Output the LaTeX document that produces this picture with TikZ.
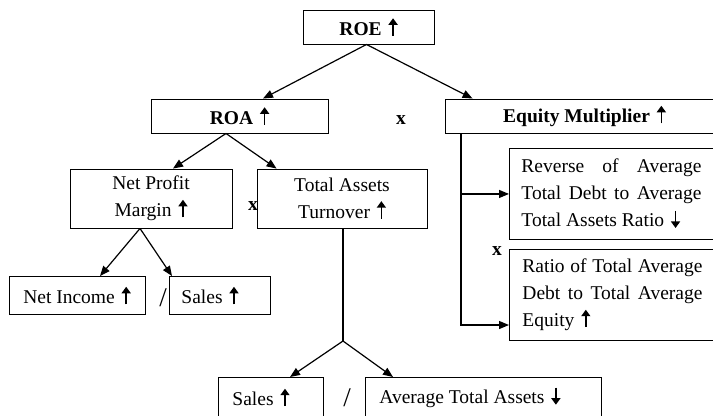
\documentclass[tikz,border=0pt]{standalone}
\usepackage{fontspec}
\setmainfont{Liberation Serif}
\usetikzlibrary{arrows.meta,calc}
\newcommand\fsz{\fontsize{19.5bp}{27bp}\selectfont}
\newcommand\uparr{\hspace{2bp}\tikz[x=1bp,y=1bp,baseline=0pt]\draw[line width=1.4bp,-{Triangle[length=6.5bp,width=9bp]}] (0,-0.5) -- (0,17);}
\newcommand\dnarr{\hspace{2bp}\tikz[x=1bp,y=1bp,baseline=0pt]\draw[line width=1.4bp,-{Triangle[length=6.5bp,width=9bp]}] (0,16) -- (0,-1);}
\tikzset{
  box/.style={draw, line width=0.9bp, inner sep=0pt, align=center, font=\fsz},
  arr/.style={line width=1.2bp, -{Triangle[length=10bp,width=8bp]}},
  thickln/.style={line width=2bp},
  op/.style={inner sep=0pt, font=\fsz\bfseries},
  slash/.style={inner sep=0pt, font=\fontsize{27bp}{30bp}\selectfont},
}
\begin{document}
\begin{tikzpicture}[x=1bp,y=-1bp]
\useasboundingbox (0,0) rectangle (713,415);
\clip (0,0) rectangle (713,415);
% top
\node[box, minimum width=131bp, minimum height=34bp] (roe) at (368.5,27) {\textbf{ROE \uparr}};
\node[box, minimum width=177bp, minimum height=34bp] (roa) at (239.5,116) {\textbf{ROA \uparr}};
\node[box, minimum width=279bp, minimum height=34bp] (em) at (584.5,116) {\textbf{Equity Multiplier \uparr}};
% second row
\node[box, minimum width=162bp, minimum height=59bp] (npm) at (151,198.5) {Net Profit\\Margin \uparr};
\node[box, minimum width=170bp, minimum height=59bp] (tat) at (342,198.5) {Total Assets\\Turnover \uparr};
% third row
\node[box, minimum width=136bp, minimum height=38bp] (ni) at (77,295.5) {Net Income \uparr};
\node[box, minimum height=38bp, anchor=west] (s1) at (169,295.5) {\makebox[101bp][l]{\hspace{12bp}Sales \uparr}};
% bottom row
\node[box, minimum height=40bp, anchor=north west] (s2) at (218,377) {\makebox[105bp][l]{\hspace{14bp}Sales \uparr}};
\node[box, minimum height=40bp, anchor=north west] (ata) at (365,377) {\makebox[236bp][l]{\hspace{14bp}Average Total Assets \dnarr}};
% right column
\node[box, minimum height=91bp, anchor=north west] (rev) at (509,148)
  {\hspace{12bp}\parbox{180bp}{\fsz\makebox[180bp][s]{Reverse of Average}\\\makebox[180bp][s]{Total Debt to Average}\\Total Assets Ratio \dnarr}\hspace{28bp}};
\node[box, minimum height=91bp, anchor=north west] (rat) at (509,249)
  {\hspace{13bp}\parbox{180bp}{\fsz\makebox[180bp][s]{Ratio of Total Average}\\\makebox[180bp][s]{Debt to Total Average}\\Equity \uparr}\hspace{27bp}};
% connectors
\draw[arr] ([xshift=-2bp]roe.south) -- ([xshift=23.5bp]roa.north);
\draw[arr] ([xshift=-2bp]roe.south) -- ([xshift=28bp]em.north west);
\draw[arr] ([xshift=-13.5bp]roa.south) -- ([xshift=22bp]npm.north);
\draw[arr] ([xshift=-13.5bp]roa.south) -- ([xshift=20bp]tat.north west);
\draw[arr] ([xshift=-11bp]npm.south) -- ([xshift=23bp]ni.north);
\draw[arr] ([xshift=-11bp]npm.south) -- ([xshift=3bp]s1.north west);
\coordinate (j1) at (343,341);
\draw[thickln] (tat.south -| j1) -- (j1);
\draw[arr] (j1) -- ([xshift=72bp]s2.north west);
\draw[arr] (j1) -- ([xshift=28bp]ata.north west);
\coordinate (emb) at (461,325);
\draw[thickln] (em.south -| emb) -- ([yshift=-1bp]emb);
\draw[arr] (emb) -- (emb -| rat.west);
\draw[arr] (rev.west -| emb) -- (rev.west);
% operators
\node[op] (x1) at (401,120.5) {x};
\node[op] (x2) at (253,206) {x};
\node[op] (x3) at (497,251) {x};
\node[slash] (sl1) at (163,298) {/};
\node[slash] (sl2) at (347,398) {/};
\end{tikzpicture}
\end{document}
